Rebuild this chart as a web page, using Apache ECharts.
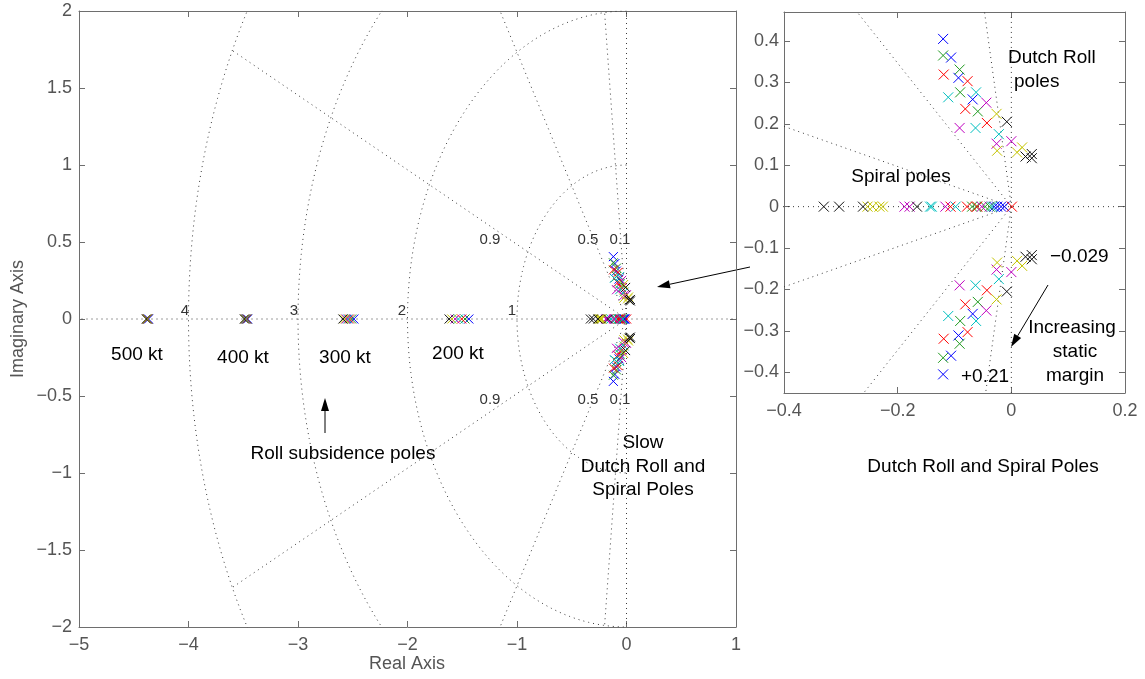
<!DOCTYPE html>
<html><head><meta charset="utf-8">
<script src="https://cdn.jsdelivr.net/npm/echarts@6/dist/echarts.min.js"></script>
<style>html,body{margin:0;padding:0;background:#fff}#c{width:1145px;height:679px}</style>
</head><body><div id="c"></div>
<script>
// ---- data ----
// static-margin cases (MATLAB colour order b g r c m y k); k = -0.029, b = +0.21
const caseNames = ['b', 'g', 'r', 'c', 'm', 'y', 'k'];
const caseColors = ['#0000ff', '#1f9a1f', '#ff0000', '#00bfbf', '#bf00bf', '#c4c400', '#111111'];
const speeds = ['500 kt', '400 kt', '300 kt', '200 kt'];

// roll subsidence poles (real axis), per case, speeds 500/400/300/200 kt
const rollSubsidence = [
  [-4.365, -3.460, -2.490, -1.440],
  [-4.370, -3.465, -2.510, -1.475],
  [-4.372, -3.470, -2.530, -1.505],
  [-4.375, -3.475, -2.545, -1.535],
  [-4.378, -3.480, -2.560, -1.565],
  [-4.380, -3.485, -2.575, -1.595],
  [-4.385, -3.490, -2.590, -1.620]
];
// spiral poles (real axis), per case
const spiral = [
  [-0.030, -0.025, -0.018, -0.012],
  [-0.069, -0.062, -0.046, -0.038],
  [-0.107, -0.078, -0.060, 0.001],
  [-0.143, -0.140, -0.098, -0.034],
  [-0.188, -0.179, -0.116, -0.052],
  [-0.253, -0.244, -0.232, -0.226],
  [-0.330, -0.303, -0.261, -0.166]
];
// Dutch roll poles: real parts and (positive) imaginary parts; plotted as conjugate pairs
const dutchRe = [
  [-0.120, -0.106, -0.093, -0.068],
  [-0.120, -0.091, -0.090, -0.059],
  [-0.119, -0.077, -0.081, -0.043],
  [-0.111, -0.062, -0.063, -0.022],
  [-0.091, -0.044, -0.026, 0.000],
  [-0.026, -0.025, 0.019, 0.010],
  [-0.008, 0.025, 0.036, 0.036]
];
const dutchIm = [
  [0.405, 0.360, 0.311, 0.259],
  [0.365, 0.331, 0.276, 0.230],
  [0.319, 0.303, 0.236, 0.202],
  [0.264, 0.276, 0.190, 0.175],
  [0.190, 0.251, 0.152, 0.158],
  [0.224, 0.135, 0.143, 0.131],
  [0.205, 0.121, 0.127, 0.117]
];
// s-plane grid
const zetas = [0.1, 0.5, 0.9];
const wns = [1, 2, 3, 4];
// tick values
const mainXTicks = [-5, -4, -3, -2, -1, 0, 1];
const mainYTicks = [-2, -1.5, -1, -0.5, 0, 0.5, 1, 1.5, 2];
const insetXTicks = [-0.4, -0.2, 0, 0.2];
const insetYTicks = [-0.4, -0.3, -0.2, -0.1, 0, 0.1, 0.2, 0.3, 0.4];

// ---- chart ----
const FONT = 'Liberation Sans, Arial, Helvetica, sans-serif';
const AX = '#6e6e6e', TX = '#555555';
const fmt = v => String(parseFloat(Number(v).toFixed(3))).replace('-', '\u2212');

function axis(kind, gi, pos, ticks, showLabel, extra) {
  const a = {
    type: 'value', gridIndex: gi, position: pos,
    min: extra.min, max: extra.max,
    axisLine: {show: true, onZero: false, lineStyle: {color: AX, width: 1}},
    axisTick: {show: true, inside: true, length: 6, customValues: ticks, lineStyle: {color: AX}},
    axisLabel: {show: showLabel, customValues: ticks, color: TX, fontSize: 18, fontFamily: FONT,
                margin: extra.margin, formatter: fmt},
    splitLine: {show: false}
  };
  return a;
}

const xAxes = [
  axis('x', 0, 'bottom', mainXTicks, true, {min: -5, max: 1, margin: 9}),
  axis('x', 0, 'top', mainXTicks, false, {min: -5, max: 1, margin: 9}),
  axis('x', 1, 'bottom', insetXTicks, true, {min: -0.4, max: 0.2, margin: 9}),
  axis('x', 1, 'top', insetXTicks, false, {min: -0.4, max: 0.2, margin: 9})
];
const yAxes = [
  axis('y', 0, 'left', mainYTicks, true, {min: -2, max: 2, margin: 7}),
  axis('y', 0, 'right', mainYTicks, false, {min: -2, max: 2, margin: 7}),
  axis('y', 1, 'left', insetYTicks, true, {min: -0.45, max: 0.47, margin: 5}),
  axis('y', 1, 'right', insetYTicks, false, {min: -0.45, max: 0.47, margin: 5})
];

const gridLine = {color: '#3a3a3a', width: 1, type: [1, 4]};
function sgrid(xi, yi) {
  const out = [];
  const mk = data => ({type: 'line', xAxisIndex: xi, yAxisIndex: yi, data, symbol: 'none',
    silent: true, lineStyle: gridLine, z: 1, animation: false, clip: true});
  out.push(mk([[-10, 0], [10, 0]]));
  out.push(mk([[0, -10], [0, 10]]));
  const R = Math.max(...wns);
  zetas.forEach(z => {
    const s = Math.sqrt(1 - z * z);
    out.push(mk([[0, 0], [-z * R, s * R]]));
    out.push(mk([[0, 0], [-z * R, -s * R]]));
  });
  wns.forEach(r => {
    const pts = [];
    for (let a = 90; a <= 270; a += 1) pts.push([r * Math.cos(a * Math.PI / 180), r * Math.sin(a * Math.PI / 180)]);
    out.push(mk(pts));
  });
  return out;
}

function poleSeries(xi, yi, size) {
  return caseNames.map((nm, i) => {
    const data = [];
    rollSubsidence[i].forEach(v => data.push([v, 0]));
    spiral[i].forEach(v => data.push([v, 0]));
    dutchRe[i].forEach((re, k) => { data.push([re, dutchIm[i][k]]); data.push([re, -dutchIm[i][k]]); });
    return {
      type: 'scatter', name: nm, xAxisIndex: xi, yAxisIndex: yi, data,
      symbol: 'path://M0,0L10,10M10,0L0,10', symbolSize: size,
      itemStyle: {color: 'rgba(0,0,0,0)', borderColor: caseColors[i], borderWidth: 1, opacity: 1},
      emphasis: {disabled: true}, silent: true, z: 3, animation: false, clip: true
    };
  });
}

// annotations (pixel layout)
const texts = [
  ['500 kt', 137, 355, 'center'], ['400 kt', 243, 358, 'center'], ['300 kt', 345, 358, 'center'],
  ['200 kt', 458, 354, 'center'], ['Roll subsidence poles', 343, 454, 'center'],
  ['Slow', 643, 443, 'center'], ['Dutch Roll and', 643, 467, 'center'], ['Spiral Poles', 643, 490, 'center'],
  ['Dutch Roll', 1008, 58, 'left'], ['poles', 1014, 82, 'left'], ['Spiral poles', 901, 177, 'center'],
  ['\u22120.029', 1050, 257, 'left'], ['Increasing', 1072, 328, 'center'], ['static', 1075, 352, 'center'],
  ['margin', 1075, 376, 'center'], ['+0.21', 985, 377, 'center'],
  ['Dutch Roll and Spiral Poles', 983, 467, 'center']
];
const gridLabels = [
  ['0.9', 490, 240], ['0.5', 588, 240], ['0.1', 620, 240],
  ['0.9', 490, 400], ['0.5', 588, 400], ['0.1', 620, 400],
  ['4', 185, 311], ['3', 294, 311], ['2', 402, 311], ['1', 512, 311]
];
const arrows = [[[325, 433], [325, 398]], [[750, 267], [657, 287]], [[1048, 285], [1011, 347]]];

const graphic = [];
texts.forEach(([t, x, y, al]) => graphic.push({type: 'text', x, y, silent: true,
  style: {text: t, fill: '#000', font: '19px ' + FONT, align: al, verticalAlign: 'middle'}}));
gridLabels.forEach(([t, x, y]) => graphic.push({type: 'text', x, y, silent: true,
  style: {text: t, fill: '#333', font: '15px ' + FONT, align: 'center', verticalAlign: 'middle'}}));
graphic.push({type: 'text', x: 407, y: 664, silent: true,
  style: {text: 'Real Axis', fill: TX, font: '18px ' + FONT, align: 'center', verticalAlign: 'middle'}});
graphic.push({type: 'text', x: 18, y: 319, rotation: Math.PI / 2, silent: true,
  style: {text: 'Imaginary Axis', fill: TX, font: '18px ' + FONT, align: 'center', verticalAlign: 'middle'}});
arrows.forEach(([p0, p1]) => {
  const dx = p1[0] - p0[0], dy = p1[1] - p0[1], L = Math.hypot(dx, dy);
  const ux = dx / L, uy = dy / L, hl = 13, hw = 4;
  const bx = p1[0] - ux * hl, by = p1[1] - uy * hl;
  graphic.push({type: 'line', silent: true, shape: {x1: p0[0], y1: p0[1], x2: bx, y2: by},
    style: {stroke: '#000', lineWidth: 1}});
  graphic.push({type: 'polygon', silent: true,
    shape: {points: [[p1[0], p1[1]], [bx - uy * hw, by + ux * hw], [bx + uy * hw, by - ux * hw]]},
    style: {fill: '#000'}});
});

const chart = echarts.init(document.getElementById('c'), null, {renderer: 'canvas'});
chart.setOption({
  animation: false,
  backgroundColor: '#fff',
  grid: [
    {left: 79, top: 11, width: 657, height: 616, containLabel: false},
    {left: 784, top: 12, width: 341, height: 381, containLabel: false}
  ],
  xAxis: xAxes,
  yAxis: yAxes,
  series: [].concat(sgrid(0, 0), sgrid(2, 2), poleSeries(0, 0, 9), poleSeries(2, 2, 10)),
  graphic
});
</script></body></html>
